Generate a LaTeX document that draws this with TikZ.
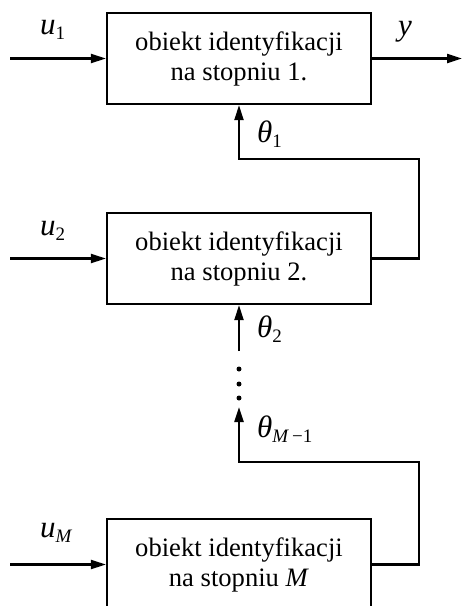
\documentclass[tikz,border=0pt]{standalone}
\usepackage{fontspec}
\setmainfont{Liberation Serif}
\usetikzlibrary{arrows.meta}
% italic symbol with a lowered, smaller index
\newcommand\symidx[2]{\textit{#1}\raisebox{-5.5pt}{\fontsize{19}{19}\selectfont #2}}

\begin{document}
\begin{tikzpicture}[x=1pt,y=-1pt,line width=2.2pt,
  block/.style={draw,minimum width=264pt,minimum height=91pt,inner sep=0pt,
    align=center,font=\fontsize{26.6}{30}\selectfont},
  sig/.style={-{Triangle[length=15pt,width=9pt]}},
  lab/.style={anchor=base west,inner sep=0pt,font=\fontsize{31}{32}\selectfont},
  dot/.style={circle,fill,inner sep=0pt,minimum size=5pt}]
\useasboundingbox (0,0) rectangle (463,606);
\clip (0,0) rectangle (463,606);

% stage blocks
\node[block] (b1) at (239,58.5) {obiekt identyfikacji\\na stopniu 1.};
\node[block] (b2) at (239,258.5) {obiekt identyfikacji\\na stopniu 2.};
\node[block] (bM) at (239,564.5) {obiekt identyfikacji\\na stopniu \textit{M}};

% inputs and output
\coordinate (in1) at (10,58.5);
\coordinate (in2) at (10,258.5);
\coordinate (inM) at (10,564.5);
\coordinate (out) at (462,58.5);
\draw[sig] (in1) -- (b1.west);
\draw[sig] (in2) -- (b2.west);
\draw[sig] (inM) -- (bM.west);
\draw[sig] (b1.east) -- (out);

% parameter hand-over between stages
\coordinate (r1) at (419,159);
\coordinate (t1) at (239,159);
\draw[sig] (b2.east) -| (r1) -- (t1) -- (b1.south);

\coordinate (t2) at (239,351);
\draw[sig] (t2) -- (b2.south);

\node[dot] (d1) at (239,369) {};
\node[dot] (d2) at (239,384) {};
\node[dot] (d3) at (239,398) {};

\coordinate (rM) at (419,462);
\coordinate (tM) at (239,462);
\coordinate (tipM) at (239,407);
\draw[sig] (bM.east) -| (rM) -- (tM) -- (tipM);

% signal labels
\node[lab] (lu1) at (39,34) {\symidx{u}{1}};
\node[lab] (ly) at (397,35) {\textit{y}};
\node[lab] (lth1) at (256,142) {\symidx{θ}{1}};
\node[lab] (lu2) at (39,235) {\symidx{u}{2}};
\node[lab] (lth2) at (256,337) {\symidx{θ}{2}};
\node[lab] (lthM) at (256,437) {\symidx{θ}{\textit{M}\,−1}};
\node[lab] (luM) at (39,537) {\symidx{u}{\textit{M}}};
\end{tikzpicture}
\end{document}
